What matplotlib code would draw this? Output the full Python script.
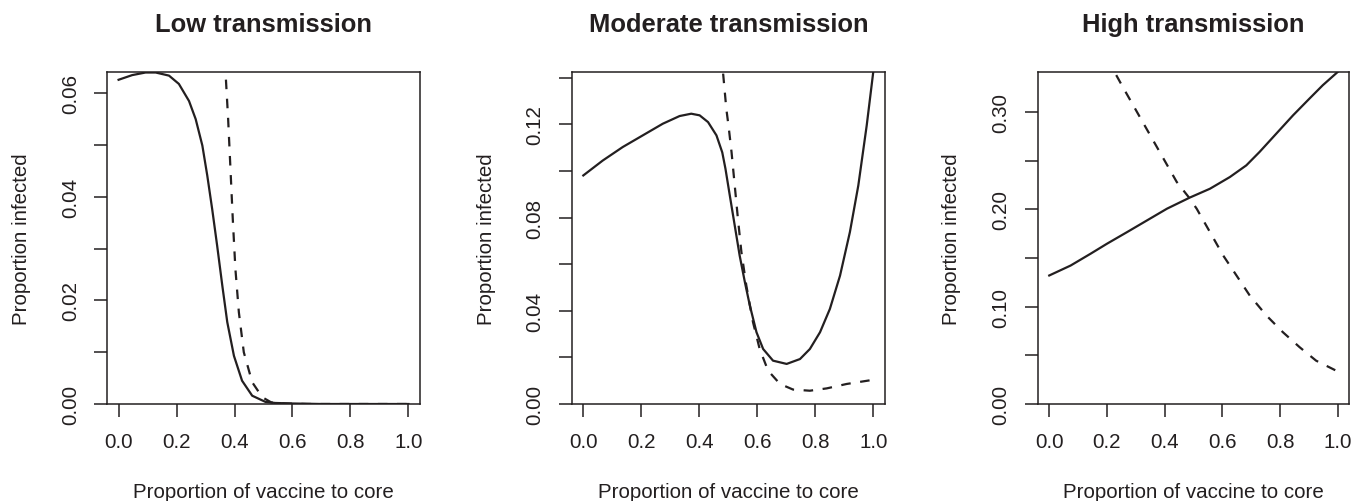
import numpy as np
import matplotlib
matplotlib.use("Agg")
import matplotlib.pyplot as plt

plt.rcParams['font.family'] = ['Liberation Sans', 'DejaVu Sans']

titles = ["Low transmission", "Moderate transmission", "High transmission"]
xlabel = "Proportion of vaccine to core"
ylabel = "Proportion infected"

# Panel 1 (low transmission)
low_solid_x = [0.0, 0.047, 0.093, 0.128, 0.174, 0.208, 0.243, 0.266, 0.289, 0.306, 0.323, 0.340,
               0.358, 0.375, 0.398, 0.426, 0.461, 0.507, 0.54, 0.6, 0.7, 0.8, 0.9, 1.0]
low_solid_y = [0.0626, 0.0635, 0.0640, 0.0640, 0.0634, 0.0618, 0.0585, 0.0550, 0.0499, 0.0441, 0.0376,
               0.0306, 0.0228, 0.0158, 0.0093, 0.0045, 0.0016, 0.0004, 0.0002, 0.0001, 0.0, 0.0, 0.0, 0.0]
low_dash_x = [0.366, 0.369, 0.378, 0.386, 0.394, 0.403, 0.415, 0.432, 0.461, 0.496, 0.527, 0.57, 0.65,
              0.8, 1.0]
low_dash_y = [0.070, 0.0640, 0.0550, 0.0454, 0.0357, 0.0261, 0.0177, 0.0100, 0.0042, 0.0013, 0.0003,
              0.0001, 0.0, 0.0, 0.0]

# Panel 2 (moderate transmission)
mod_solid_x = [0.0, 0.067, 0.136, 0.205, 0.274, 0.332, 0.372, 0.401, 0.430, 0.459, 0.479, 0.490,
               0.505, 0.522, 0.539, 0.557, 0.574, 0.597, 0.620, 0.654, 0.701, 0.747, 0.781, 0.816,
               0.850, 0.885, 0.919, 0.948, 0.977, 1.0]
mod_solid_y = [0.0981, 0.1045, 0.1103, 0.1153, 0.1203, 0.1236, 0.1246, 0.1239, 0.1210, 0.1153, 0.1080,
               0.1010, 0.0895, 0.0766, 0.0637, 0.0523, 0.0423, 0.0308, 0.0236, 0.0186, 0.0172, 0.0193,
               0.0236, 0.0308, 0.0408, 0.0551, 0.0738, 0.0938, 0.1196, 0.1430]
mod_dash_x = [0.479, 0.482, 0.493, 0.501, 0.511, 0.522, 0.533, 0.545, 0.562, 0.585, 0.608, 0.637,
              0.678, 0.723, 0.781, 0.839, 0.908, 1.0]
mod_dash_y = [0.150, 0.1418, 0.1267, 0.1190, 0.1081, 0.0938, 0.0795, 0.0652, 0.0508, 0.0351, 0.0236,
              0.0143, 0.0086, 0.0062, 0.0057, 0.0067, 0.0086, 0.0104]

# Panel 3 (high transmission)
high_solid_x = [0.0, 0.074, 0.143, 0.2, 0.27, 0.339, 0.408, 0.487, 0.557, 0.626, 0.683, 0.729, 0.787,
                0.845, 0.902, 0.948, 1.0]
high_solid_y = [0.132, 0.1422, 0.1543, 0.1646, 0.1766, 0.1886, 0.2006, 0.2120, 0.2211, 0.2331, 0.2451,
                0.2589, 0.2777, 0.2965, 0.3137, 0.3274, 0.3411]
high_dash_x = [0.2, 0.226, 0.258, 0.304, 0.350, 0.396, 0.442, 0.483, 0.511, 0.557, 0.603, 0.649, 0.695,
               0.753, 0.810, 0.868, 0.925, 0.994]
high_dash_y = [0.355, 0.3411, 0.324, 0.300, 0.276, 0.252, 0.228, 0.2126, 0.2006, 0.1766, 0.1525, 0.132,
               0.1114, 0.0908, 0.0737, 0.0583, 0.0445, 0.0343]

ylims = [0.0641, 0.1425, 0.341]
yticks_all = [np.arange(0, 0.0601, 0.01), np.arange(0, 0.1401, 0.02), np.arange(0, 0.3001, 0.05)]
ylabels_shown = [[0.00, 0.02, 0.04, 0.06], [0.00, 0.04, 0.08, 0.12], [0.00, 0.10, 0.20, 0.30]]
xticks = [0.0, 0.2, 0.4, 0.6, 0.8, 1.0]

series = [(low_solid_x, low_solid_y, low_dash_x, low_dash_y),
          (mod_solid_x, mod_solid_y, mod_dash_x, mod_dash_y),
          (high_solid_x, high_solid_y, high_dash_x, high_dash_y)]

W, H = 1355, 502
fig = plt.figure(figsize=(W / 100, H / 100), dpi=100)

lefts = [107, 571.7, 1037.7]
widths = [313, 313.3, 311.6]
top_px, bot_px = 73, 405
fs = 14.8
ink = '#231f20'

for i in range(3):
    ax = fig.add_axes([lefts[i] / W, 1 - bot_px / H, widths[i] / W, (bot_px - top_px) / H])
    sx, sy, dx, dy = series[i]
    ax.plot(sx, sy, color=ink, lw=1.6, solid_joinstyle='round')
    ax.plot(dx, dy, color=ink, lw=1.6, dashes=(4.3, 4.3))
    ax.set_xlim(-0.04, 1.04)
    ax.set_ylim(0, ylims[i])
    ax.set_xticks(xticks)
    ax.set_xticklabels([f"{v:.1f}" for v in xticks])
    yt = yticks_all[i]
    ax.set_yticks(yt)
    shown = ylabels_shown[i]
    ax.set_yticklabels([f"{v:.2f}" if any(abs(v - s) < 1e-9 for s in shown) else "" for v in yt],
                       rotation=90, va='center')
    ax.tick_params(direction='out', length=9.5, width=1.1, labelsize=fs, colors=ink)
    ax.tick_params(axis='x', pad=11)
    ax.tick_params(axis='y', pad=10)
    for sp in ax.spines.values():
        sp.set_linewidth(1.1)
        sp.set_color(ink)
    cx = (lefts[i] + widths[i] / 2) / W
    fig.text(cx, 1 - 32.5 / H, titles[i], ha='center', va='baseline', fontsize=18.4,
             fontweight='bold', color=ink)
    fig.text(cx, 1 - 498.5 / H, xlabel, ha='center', va='baseline', fontsize=fs, color=ink)
    ylab_x = [22, 487, 951.7][i]
    fig.text(ylab_x / W, 1 - 239 / H, ylabel, ha='center', va='center', rotation=90,
             fontsize=fs, color=ink)

fig.savefig("out.png", dpi=100)
